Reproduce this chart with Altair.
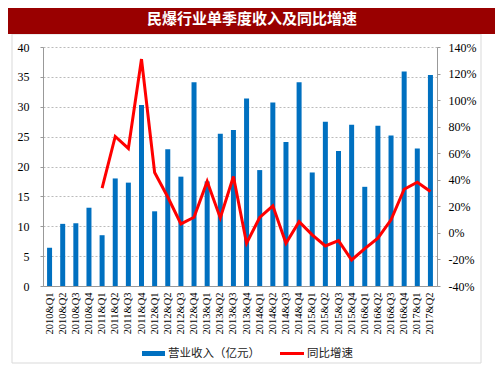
import altair as alt
import pandas as pd

quarters = ["2010&Q1", "2010&Q2", "2010&Q3", "2010&Q4",
            "2011&Q1", "2011&Q2", "2011&Q3", "2011&Q4",
            "2012&Q1", "2012&Q2", "2012&Q3", "2012&Q4",
            "2013&Q1", "2013&Q2", "2013&Q3", "2013&Q4",
            "2014&Q1", "2014&Q2", "2014&Q3", "2014&Q4",
            "2015&Q1", "2015&Q2", "2015&Q3", "2015&Q4",
            "2016&Q1", "2016&Q2", "2016&Q3", "2016&Q4",
            "2017&Q1", "2017&Q2"]
revenue = [6.4, 10.4, 10.5, 13.1, 8.5, 18.0, 17.3, 30.3, 12.5, 22.9,
           18.3, 34.1, 17.5, 25.5, 26.1, 31.4, 19.4, 30.7, 24.1, 34.1,
           19.0, 27.5, 22.6, 27.0, 16.6, 26.8, 25.2, 35.9, 23.0, 35.3]
growth_quarters = quarters[4:]
growth = [33.7, 72.6, 63.6, 130.9, 45.5, 27.0, 6.8, 11.8, 38.7, 11.3,
          42.5, -7.8, 11.6, 20.4, -7.8, 8.5, -1.5, -9.8, -5.8, -20.4,
          -11.8, -4.0, 9.8, 32.9, 38.2, 31.2]
left_ticks = [0, 5, 10, 15, 20, 25, 30, 35, 40]
right_ticks = [-40, -20, 0, 20, 40, 60, 80, 100, 120, 140]
title_text = "民爆行业单季度收入及同比增速"
legend_labels = ["营业收入（亿元）", "同比增速"]

BLUE = "#0070C0"
RED = "#FF0000"
SERIF = "Liberation Serif"
CJK = "Noto Sans CJK SC"

bars_df = pd.DataFrame({"quarter": quarters, "revenue": revenue})
line_df = pd.DataFrame({"quarter": growth_quarters, "growth": growth})
one = pd.DataFrame({"k": [0]})

x_enc = alt.X("quarter:N", sort=quarters,
              scale=alt.Scale(domain=quarters, paddingInner=0, paddingOuter=0),
              axis=alt.Axis(title=None, labelAngle=270, labelFont=SERIF,
                            labelFontSize=10.5, labelColor="#000",
                            ticks=False, domainColor="#999", labelPadding=6))

bars = alt.Chart(bars_df).mark_bar(size=5, color=BLUE).encode(
    x=x_enc,
    y=alt.Y("revenue:Q", scale=alt.Scale(domain=[0, 40], nice=False),
            axis=alt.Axis(title=None, values=left_ticks, orient="left",
                          labelFont=SERIF, labelFontSize=12, labelColor="#000",
                          domainColor="#999", tickColor="#999", tickSize=3,
                          labelPadding=11, grid=True, gridDash=[2, 2],
                          gridColor="#bbbbbb")),
)

line = alt.Chart(line_df).mark_line(color=RED, strokeWidth=3).encode(
    x=alt.X("quarter:N", sort=quarters),
    y=alt.Y("growth:Q", scale=alt.Scale(domain=[-40, 140], nice=False),
            axis=alt.Axis(title=None, values=right_ticks, orient="right",
                          labelExpr="datum.value + '%'",
                          labelFont=SERIF, labelFontSize=12, labelColor="#000",
                          domainColor="#999", tickColor="#999", tickSize=3,
                          labelPadding=8, grid=False)),
)

frame = alt.Chart(one).mark_rect(fillOpacity=0, stroke="#d9d9d9", strokeWidth=1).encode(
    x=alt.value(-31), x2=alt.value(438), y=alt.value(-13), y2=alt.value(316))

banner = alt.Chart(one).mark_rect(fill="#990000").encode(
    x=alt.value(-35), x2=alt.value(452), y=alt.value(-39), y2=alt.value(-13))

title = alt.Chart(pd.DataFrame({"t": [title_text]})).mark_text(
    font=CJK, fontSize=15, fontWeight="bold", color="white",
    align="center", baseline="middle").encode(
    text="t:N", x=alt.value(209), y=alt.value(-28))

leg_blue = alt.Chart(one).mark_rect(fill=BLUE).encode(
    x=alt.value(99), x2=alt.value(122), y=alt.value(304), y2=alt.value(309))
leg_red = alt.Chart(one).mark_rule(color=RED, strokeWidth=3).encode(
    x=alt.value(237), x2=alt.value(261), y=alt.value(306.5))
leg_t1 = alt.Chart(pd.DataFrame({"t": [legend_labels[0]]})).mark_text(
    font=CJK, fontSize=11.5, color="#222", align="left", baseline="middle").encode(
    text="t:N", x=alt.value(125), y=alt.value(307))
leg_t2 = alt.Chart(pd.DataFrame({"t": [legend_labels[1]]})).mark_text(
    font=CJK, fontSize=11.5, color="#222", align="left", baseline="middle").encode(
    text="t:N", x=alt.value(264), y=alt.value(307))

chart = alt.layer(frame, banner, bars, line, title, leg_blue, leg_red, leg_t1, leg_t2).resolve_scale(
    y="independent"
).properties(
    width=394, height=239,
    autosize=alt.AutoSizeParams(type="none"),
    padding={"left": 35, "top": 39, "right": 58, "bottom": 84},
    background="white",
).configure_view(stroke=None)

chart.save("out.html", embed_options={"renderer": "svg", "actions": False})
